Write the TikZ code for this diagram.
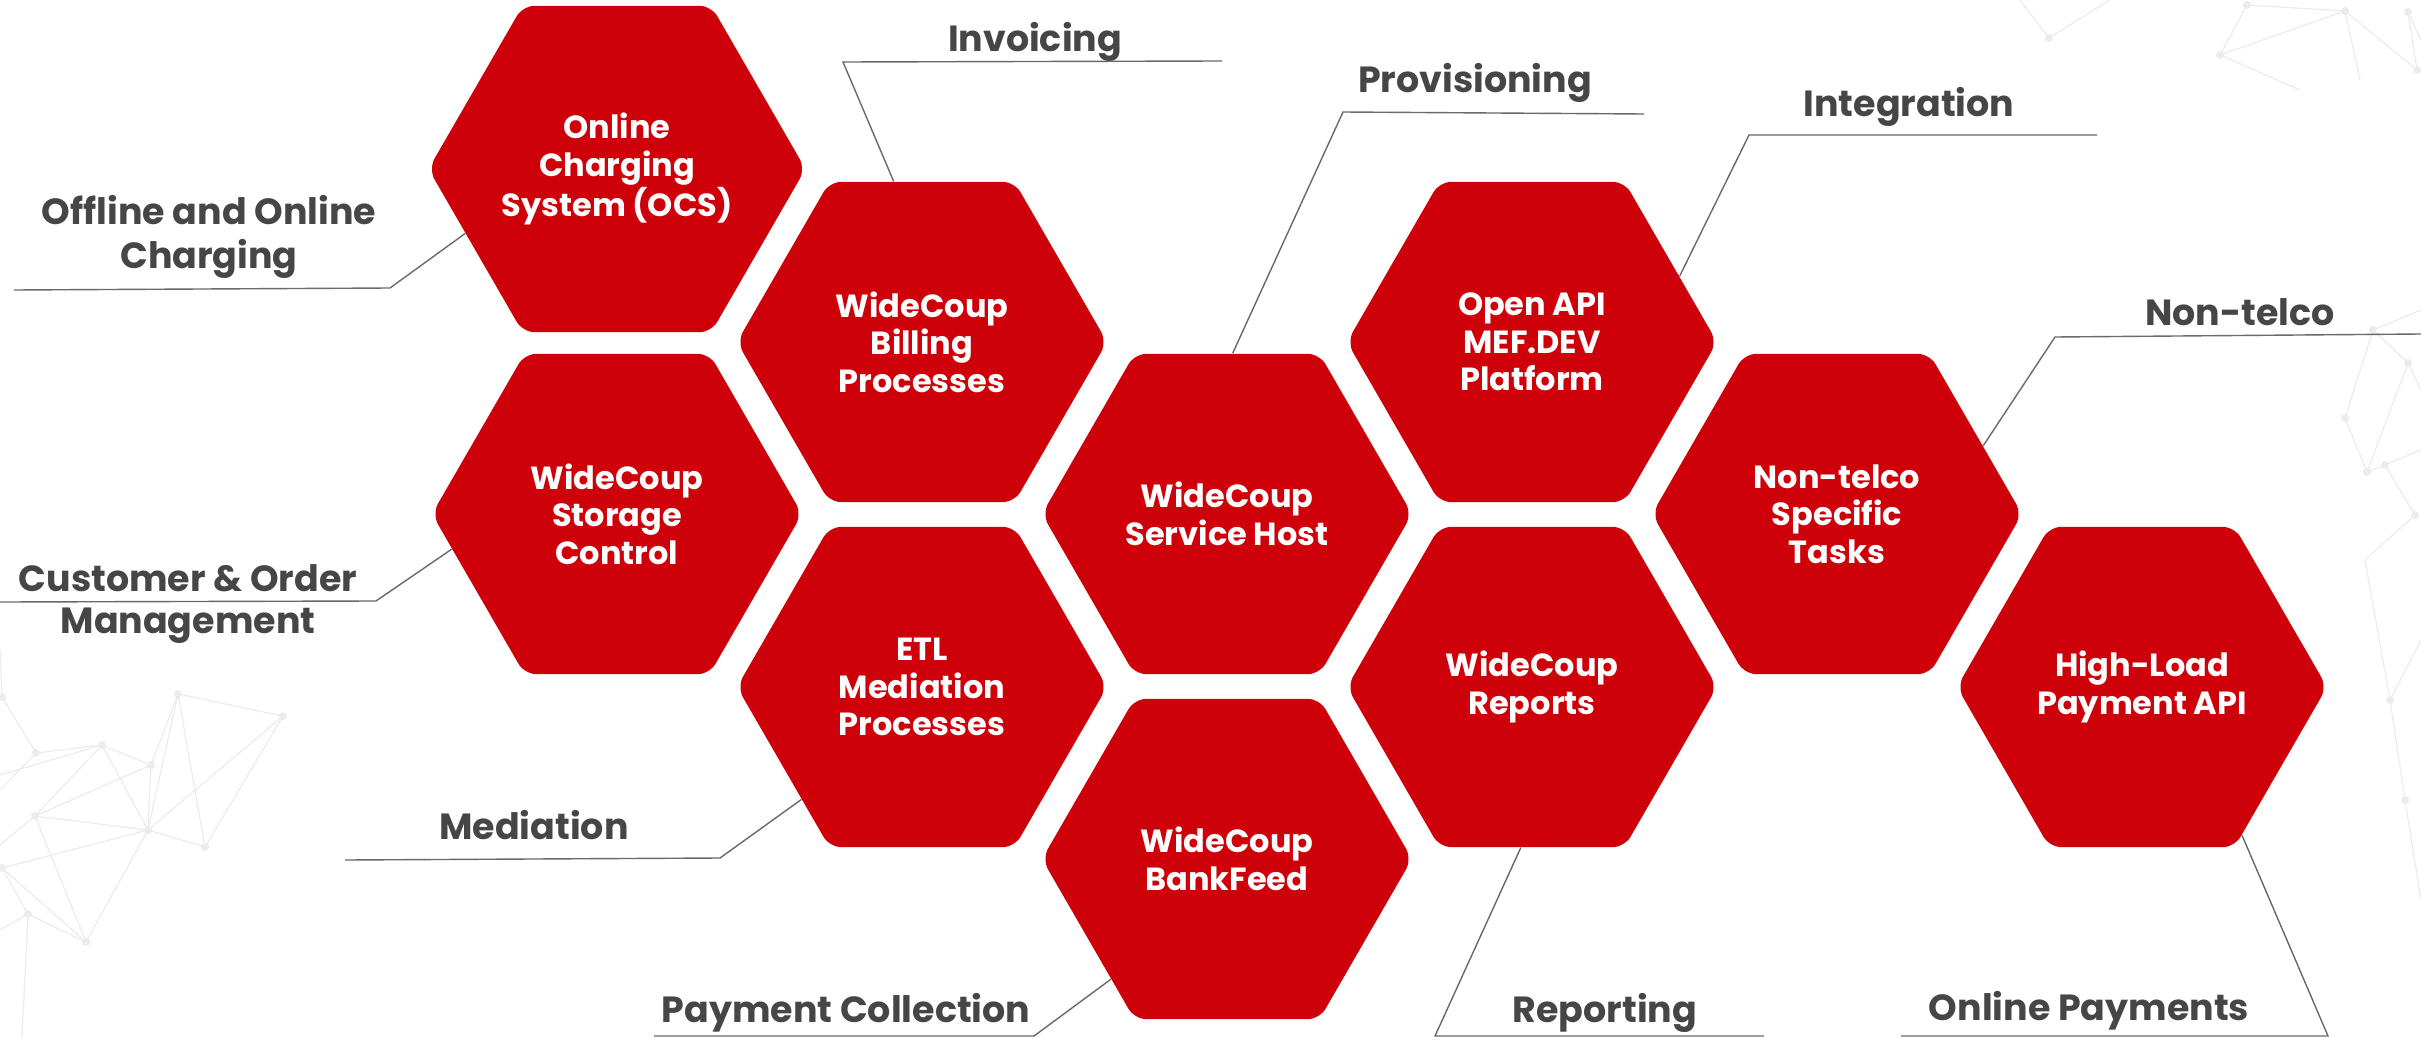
\documentclass[tikz,border=0pt]{standalone}
\usepackage{fontspec}
\setmainfont{Poppins}
\usetikzlibrary{shapes.geometric}
\definecolor{hexred}{RGB}{206,0,10}
\definecolor{labgray}{RGB}{70,70,70}
\definecolor{lingray}{RGB}{105,105,105}
\definecolor{netgray}{RGB}{236,236,236}
\tikzset{
  hexbox/.style={regular polygon, regular polygon sides=6, minimum size=185pt,
    inner sep=0pt, fill=hexred, rounded corners=6pt, text=white, align=center,
    font=\bfseries\fontsize{16}{18.7}\selectfont},
  outlabel/.style={anchor=base, text=labgray, align=center,
    font=\bfseries\fontsize{18.2}{22}\selectfont, inner sep=0pt},
  leader/.style={draw=lingray, line width=0.7pt},
  netline/.style={draw=netgray, line width=0.6pt},
  netdot/.style={fill=netgray}
}
\begin{document}
\begin{tikzpicture}[x=0.5pt,y=-0.5pt]
\useasboundingbox[fill=white] (0,0) rectangle (2421,1038);
% background network (decoration)
\begin{scope}
\foreach \a/\b in {{2,697}/{36,753},{36,753}/{102,745},{102,745}/{151,765},{102,745}/{148,830},{151,765}/{148,830},{151,765}/{35,816},{178,694}/{283,716},{178,694}/{148,830},{178,694}/{205,847},{178,694}/{151,765},{283,716}/{148,830},{283,716}/{205,847},{148,830}/{205,847},{35,816}/{148,830},{35,816}/{102,745},{35,816}/{86,942},{2,868}/{148,830},{148,830}/{86,942},{2,868}/{86,942},{28,914}/{86,942},{28,914}/{22,1038},{0,775}/{102,745},{0,790}/{36,753},{35,816}/{0,845},{28,914}/{0,930},{2,868}/{28,914},{2,697}/{0,650},
{2049,38}/{2110,0},{2049,38}/{2020,0},{2220,55}/{2247,5},{2220,55}/{2345,11},{2247,5}/{2345,11},{2345,11}/{2417,70},{2345,11}/{2360,80},{2408,12}/{2417,70},{2408,12}/{2421,40},{2220,55}/{2300,90},{2373,330}/{2408,363},{2373,330}/{2345,418},{2408,363}/{2367,472},{2345,418}/{2367,472},{2385,465}/{2415,515},{2373,330}/{2421,310},{2408,363}/{2421,390},{2367,472}/{2385,465},{2385,465}/{2421,450},{2390,700}/{2421,640},{2390,700}/{2405,800},{2405,800}/{2421,900},{2390,700}/{2365,560},{2365,560}/{2415,515}}
  {\draw[netline] (\a) -- (\b);}
\foreach \p in {{2,697},{36,753},{102,745},{151,765},{178,694},{283,716},{35,816},{148,830},{205,847},{2,868},{28,914},{86,942},{2049,38},{2220,55},{2247,5},{2345,11},{2408,12},{2417,70},{2373,330},{2408,363},{2345,418},{2367,472},{2385,465},{2415,515},{2390,700},{2405,800}}
  {\fill[netdot] (\p) circle (4);}
\end{scope}
% hexagons
\node[hexbox] (ocs)  at (617,169)   {Online\\Charging\\System (OCS)};
\node[hexbox] (bill) at (922,342)   {WideCoup\\Billing\\Processes};
\node[hexbox] (sto)  at (617,514)   {WideCoup\\Storage\\Control};
\node[hexbox] (etl)  at (922,687)   {ETL\\Mediation\\Processes};
\node[hexbox] (svc)  at (1227,514)  {WideCoup\\Service Host};
\node[hexbox] (bank) at (1227,859)  {WideCoup\\BankFeed};
\node[hexbox] (api)  at (1532,342)  {Open API\\MEF.DEV\\Platform};
\node[hexbox] (rep)  at (1532,687)  {WideCoup\\Reports};
\node[hexbox] (nt)   at (1837,514)  {Non-telco\\Specific\\Tasks};
\node[hexbox] (hl)   at (2142,687)  {High-Load\\Payment API};
% outer labels
\node[outlabel] (l1) at (209,268) {Offline and Online\\Charging};
\node[outlabel] (l2) at (1035,52) {Invoicing};
\node[outlabel] (l3) at (1475,93) {Provisioning};
\node[outlabel] (l4) at (1909,117) {Integration};
\node[outlabel] (l5) at (2240,325) {Non-telco};
\node[outlabel] (l6a) at (188,591) {Customer \& Order};
\node[outlabel] (l6b) at (188,633) {Management};
\node[outlabel] (l7) at (534,839) {Mediation};
\node[outlabel] (l8) at (846,1022) {Payment Collection};
\node[outlabel] (l9) at (1605,1022) {Reporting};
\node[outlabel] (l10) at (2089,1020) {Online Payments};
% leader coordinates
\coordinate (a1) at (14,290);   \coordinate (b1) at (390,288);
\coordinate (a2) at (1222,61);  \coordinate (b2) at (843,62);
\coordinate (a3) at (1644,114); \coordinate (b3) at (1343,112);
\coordinate (a4) at (2097,135); \coordinate (b4) at (1749,135);
\coordinate (a5) at (2421,334); \coordinate (b5) at (2055,337);
\coordinate (a6) at (0,602);    \coordinate (b6) at (376,601);
\coordinate (a7) at (345,860);  \coordinate (b7) at (720,858);
\coordinate (a8) at (654,1036); \coordinate (b8) at (1034,1036);
\coordinate (a9) at (1764,1036); \coordinate (b9) at (1435,1036);
\coordinate (a10) at (1901,1036); \coordinate (b10) at (2328,1036);
% leaders
\draw[leader] (a1) -- (b1) -- (ocs.203);
\draw[leader] (a2) -- (b2) -- (bill.100.6);
\draw[leader] (a3) -- (b3) -- (svc.88.2);
\draw[leader] (a4) -- (b4) -- (api.24.7);
\draw[leader] (a5) -- (b5) -- (nt.25.3);
\draw[leader] (a6) -- (b6) -- (sto.192.5);
\draw[leader] (a7) -- (b7) -- (etl.223.5);
\draw[leader] (a8) -- (b8) -- (bank.226.9);
\draw[leader] (a9) -- (b9) -- (rep.266.1);
\draw[leader] (a10) -- (b10) -- (hl.304.3);
\end{tikzpicture}
\end{document}
